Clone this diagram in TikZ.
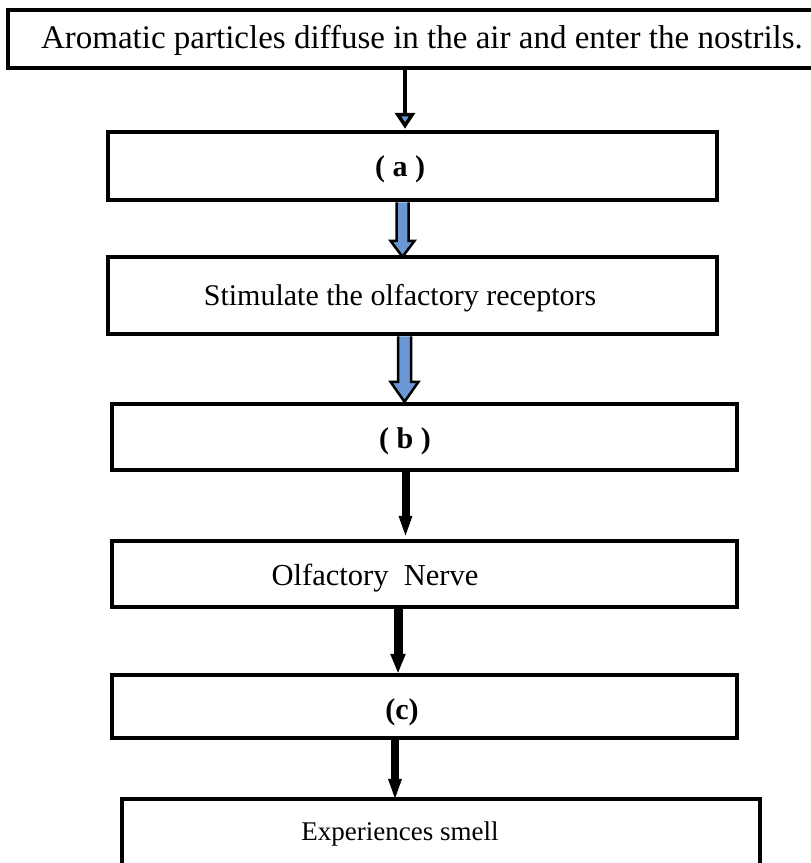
\documentclass[tikz,border=0pt]{standalone}
\usepackage{fontspec}
\setmainfont{Liberation Serif}
\usetikzlibrary{arrows.meta,calc}
\definecolor{arrowblue}{RGB}{106,152,212}
\begin{document}
\begin{tikzpicture}[x=1pt,y=-1pt,
  box/.style={draw=black, line width=4.5pt, rectangle, inner sep=0pt},
  lbl/.style={font=\fontsize{28}{32}\selectfont, inner sep=0pt},
  blockarrow/.style={draw=black, fill=arrowblue, line width=2.5pt, line join=miter},
  thinarrow/.style={draw=black, line width=3.5pt,
    -{Triangle[width=20pt,length=16pt,fill=arrowblue]}},
  heavyarrow/.style={draw=black, line width=8pt,
    -{Triangle[width=12pt,length=22pt]}},
  heavyblue/.style={draw=black, line width=9pt,
    -{Triangle[width=14pt,length=20pt,fill=arrowblue]}}]
\useasboundingbox (0,0) rectangle (811,863);

% boxes
\node[box, minimum width=812pt, minimum height=58pt] (top)   at (414,39) {};
\node[box, minimum width=609pt, minimum height=68pt] (a)     at (412.5,166) {};
\node[box, minimum width=609pt, minimum height=77pt] (stim)  at (412.5,295.5) {};
\node[box, minimum width=625pt, minimum height=66pt] (b)     at (424.5,437) {};
\node[box, minimum width=625pt, minimum height=66pt] (nerve) at (424.5,574) {};
\node[box, minimum width=625pt, minimum height=63pt] (c)     at (424.5,706.5) {};
\node[box, minimum width=638pt, minimum height=81pt] (smell) at (441,839.5) {};

% labels
\node[lbl, font=\fontsize{33}{38}\selectfont] (ttop) at (422,40)
  {Aromatic particles diffuse in the air and enter the nostrils.};
\node[lbl, font=\fontsize{30}{34}\selectfont] (ta) at (400,169) {\textbf{( a )}};
\node[lbl, font=\fontsize{30}{34}\selectfont] (tstim) at (400,298)
  {Stimulate the olfactory receptors};
\node[lbl, font=\fontsize{30}{34}\selectfont] (tb) at (405,441) {\textbf{( b )}};
\node[lbl, font=\fontsize{30.5}{35}\selectfont] (tnerve) at (375,578) {Olfactory\ \ Nerve};
\node[lbl, font=\fontsize{30}{34}\selectfont] (tc) at (402,712) {\textbf{(c)}};
\node[lbl, font=\fontsize{27}{31}\selectfont] (tsmell) at (400,834) {Experiences smell};

% arrow columns
\coordinate (x1) at (405,0);
\coordinate (x2) at (402.5,0);
\coordinate (x3) at (404.5,0);
\coordinate (x4) at (405.5,0);
\coordinate (x5) at (398,0);
\coordinate (x6) at (395,0);

% connectors
\draw[thinarrow] (top.south -| x1) -- ($(a.north -| x1)+(0,-1)$);

\path (a.south -| x2) coordinate (s2) (stim.north -| x2) coordinate (e2);
\draw[blockarrow] ($(s2)+(-6,0)$) -- ($(e2)+(-6,-14)$) -- ($(e2)+(-12,-14)$)
  -- ($(e2)+(0,2)$) -- ($(e2)+(12,-14)$) -- ($(e2)+(6,-14)$) -- ($(s2)+(6,0)$);

\path (stim.south -| x3) coordinate (s3) (b.north -| x3) coordinate (e3);
\draw[blockarrow] ($(s3)+(-6.5,0)$) -- ($(e3)+(-6.5,-20)$) -- ($(e3)+(-14,-20)$)
  -- ($(e3)+(0,0)$) -- ($(e3)+(14,-20)$) -- ($(e3)+(6.5,-20)$) -- ($(s3)+(6.5,0)$);

\draw[heavyarrow] (b.south -| x4) -- ($(nerve.north -| x4)+(0,-1)$);
\draw[heavyblue]  (nerve.south -| x5) -- ($(c.north -| x5)+(0,1)$);
\draw[heavyarrow] (c.south -| x6) -- ($(smell.north -| x6)+(0,4)$);
\end{tikzpicture}
\end{document}
